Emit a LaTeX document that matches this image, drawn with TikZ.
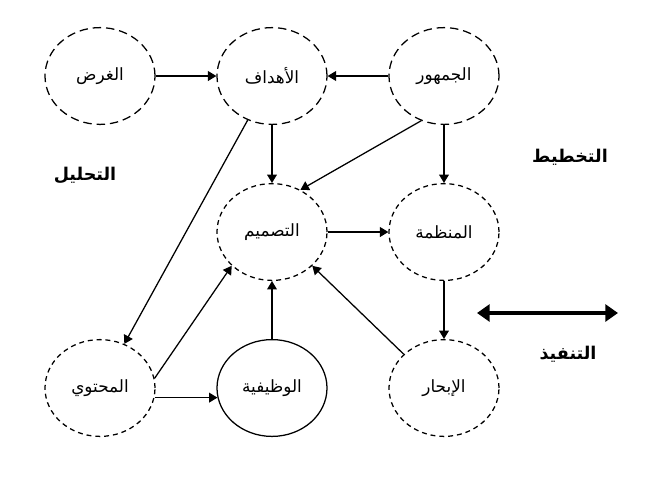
\documentclass[tikz,border=0pt]{standalone}
\usepackage{fontspec}
\usetikzlibrary{arrows.meta,shapes.geometric}
\TeXXeTstate=1
\newfontfamily\arabicfont[Script=Arabic]{DejaVu Sans}
\tikzset{
    phase/.style = {ellipse,fill=none,draw=black,text=black,line width=0.9pt,minimum width=2.75cm,minimum height=2.42cm,inner sep=0pt,font=\arabicfont\fontsize{12}{14}\selectfont},
    longdash/.style = {phase,dash pattern=on 6pt off 3.5pt},
    shortdash/.style = {phase,dash pattern=on 3.5pt off 2.8pt},
    stage/.style = {text=black,font=\arabicfont\bfseries\fontsize{12.5}{14}\selectfont},
    >={Triangle[length=6pt,width=7pt]}
}
\begin{document}
\begin{tikzpicture}[node distance = 4.3cm,->,line width=0.9pt]
        \useasboundingbox (0,0) rectangle (16.325,-12.025);

        %% Top row
        \node[longdash]  (1001) at (2.5,-1.9)        {\beginR الغرض\endR};
        \node[longdash]  (1002) [right of=1001]    {\beginR الأهداف\endR};
        \node[longdash]  (1003) [right of=1002]    {\beginR الجمهور\endR};

        %% Middle row
        \node[shortdash] (2002) [below of=1002,node distance=3.9cm]    {\beginR التصميم\endR};
        \node[shortdash] (2003) [right of=2002]    {\beginR المنظمة\endR};

        %% Bottom row
        \node[phase]     (3002) [below of=2002,node distance=3.9cm]    {\beginR الوظيفية\endR};
        \node[shortdash] (3001) [left of=3002]     {\beginR المحتوي\endR};
        \node[shortdash] (3003) [right of=3002]    {\beginR الإبحار\endR};

        %% Stages
        \node[stage]  (t001) at (2.125,-4.375)     {\beginR التحليل\endR};
        \node[stage]  (t002) at (14.25,-3.925)     {\beginR التخطيط\endR};
        \node[stage]  (t003) at (14.2,-8.85)       {\beginR التنفيذ\endR};
        \coordinate (a001) at (11.925,-7.825);
        \coordinate (a002) at (15.45,-7.825);

        \path   (1001) edge []   (1002)
                (1003) edge []   (1002)
                (1002) edge []   (2002)
                (1003.243) edge []   (2002.56)
                (1003) edge []   (2003)
                (2002) edge []   (2003)
                (2003) edge []   (3003)
                (1002) edge []   (3001);

        \path   (3001.10) edge []   (2002.220)
                (3001.350) edge []  (3002.190)
                (3002) edge []   (2002)
                (3003.140) edge []  (2002.320);

        \draw   [line width=3pt,{Triangle[length=9pt,width=12pt]}-{Triangle[length=9pt,width=12pt]}]
                (a001) -- (a002);
    \end{tikzpicture}
\end{document}
